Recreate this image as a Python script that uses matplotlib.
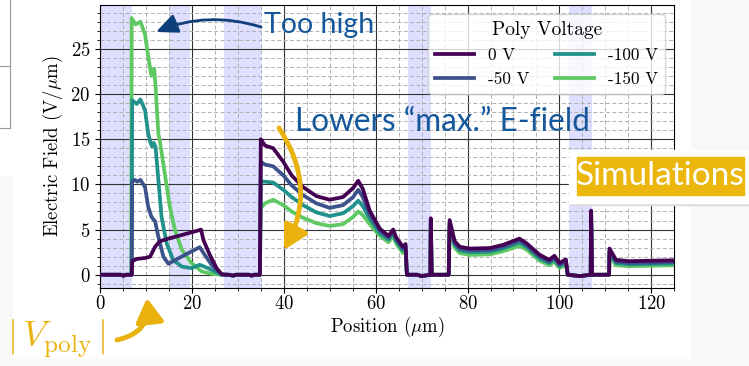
import numpy as np
import matplotlib
matplotlib.use('Agg')
import matplotlib.pyplot as plt
from matplotlib.patches import Rectangle, FancyArrowPatch
from matplotlib.lines import Line2D
from matplotlib.ticker import MultipleLocator

plt.rcParams['font.family'] = 'serif'
plt.rcParams['font.serif'] = ['cmr10']
plt.rcParams['mathtext.fontset'] = 'cm'
plt.rcParams['axes.formatter.use_mathtext'] = True

# left part of each curve (differs per voltage)
x_0V_left = [0, 4.5, 5.1, 5.7, 6.9, 7.0, 8.0, 9.8, 10.9, 12.0, 13.0, 14.9, 17.8, 21.4, 22.0, 22.5, 23.9, 25.4, 26.5]
y_0V_left = [0, 0, -0.1, 0, 0, 1.5, 1.75, 1.85, 2.0, 3.1, 3.7, 4.0, 4.4, 4.9, 5.0, 3.85, 2.2, 0.7, 0.05]
x_50V_left = [0, 4.5, 5.1, 5.7, 6.9, 7.0, 7.6, 8.1, 8.8, 9.8, 10.5, 11.2, 12.0, 12.7, 13.8, 14.9, 15.9, 18.5, 21.7, 22.8, 24.3, 26.1, 26.8]
y_50V_left = [0, 0, -0.1, 0, 0, 10.3, 10.5, 10.3, 10.5, 9.7, 7.5, 6.4, 5.9, 4.2, 2.0, 1.2, 1.5, 2.2, 3.05, 2.2, 1.1, 0.2, 0]
x_100V_left = [0, 4.5, 5.1, 5.7, 6.9, 7.0, 8.0, 8.8, 9.8, 10.5, 11.0, 11.3, 11.7, 12.1, 12.7, 13.4, 14.5, 15.9, 17.8, 19.9, 21.7, 23.5, 25.7, 26.6]
y_100V_left = [0, 0, -0.1, 0, 0, 19.3, 18.9, 19.4, 18.2, 15.6, 14.6, 14.2, 14.6, 14.1, 10.5, 6.4, 3.5, 1.65, 0.9, 0.73, 1.1, 0.73, 0.2, 0]
x_150V_left = [0, 4.5, 5.1, 5.7, 6.8, 6.9, 7.75, 8.8, 9.8, 10.5, 11.2, 11.8, 12.1, 12.7, 13.0, 14.1, 15.2, 16.3, 17.8, 19.9, 22.1, 24.3, 26.5]
y_150V_left = [0, 0, -0.1, 0, 0, 28.4, 27.7, 28.0, 26.6, 24.1, 22.0, 22.8, 20.8, 15.6, 14.9, 11.2, 7.5, 5.0, 2.76, 1.3, 0.37, 0.1, 0]

# right part, shared positions
x_right = [28.0, 29.0, 29.6, 32.4, 33.0, 33.6, 34.8, 35.0, 35.9, 37.7, 39.9, 41.7, 44.2, 47.1,
           50.0, 52.9, 55.1, 56.2, 57.2, 58.7, 60.9, 62.8, 63.8, 64.4, 65.9, 66.5, 66.8, 69.0,
           70.0, 71.9, 72.0, 72.2, 75.9, 76.1, 77.2, 78.3, 80.4, 84.8, 87.7, 91.3, 92.8, 95.7,
           97.8, 98.9, 100.0, 101.4, 101.8, 104.5, 106.8, 106.9, 107.1, 110.8, 110.9, 112.3, 115.2, 125.0]
y_0V_right = [0, -0.1, 0, 0, -0.1, 0, 0, 15.0, 14.3, 14.0, 12.5, 11.0, 9.7, 8.7, 8.3, 8.6, 9.6, 10.4, 9.5,
              7.1, 5.1, 4.3, 5.0, 4.2, 3.1, 3.4, 0, 0, -0.15, 0, 6.25, 0, 0, 6.05, 3.7, 3.1, 2.9, 2.95,
              3.3, 4.0, 3.5, 2.2, 1.65, 2.1, 1.3, 1.7, 0, -0.15, 0, 7.1, 0, 0, 2.9, 1.65, 1.5, 1.6]
y_50V_right = [0, -0.1, 0, 0, -0.1, 0, 0, 12.5, 12.2, 12.0, 11.0, 9.9, 8.8, 7.9, 7.4, 7.7, 8.6, 9.4, 8.6,
               6.7, 4.9, 4.1, 4.8, 4.0, 2.9, 3.2, 0, 0, -0.15, 0, 6.0, 0, 0, 5.8, 3.5, 2.9, 2.7, 2.75,
               3.1, 3.8, 3.3, 2.0, 1.45, 1.9, 1.1, 1.5, 0, -0.15, 0, 6.8, 0, 0, 2.7, 1.45, 1.3, 1.4]
y_100V_right = [0, -0.1, 0, 0, -0.1, 0, 0, 10.3, 10.3, 10.2, 9.4, 8.6, 7.7, 6.9, 6.5, 6.8, 7.6, 8.2, 7.6,
                6.2, 4.6, 3.9, 4.6, 3.8, 2.7, 3.0, 0, 0, -0.15, 0, 5.8, 0, 0, 5.6, 3.3, 2.7, 2.5, 2.55,
                2.9, 3.55, 3.1, 1.8, 1.3, 1.7, 0.95, 1.35, 0, -0.15, 0, 6.6, 0, 0, 2.5, 1.3, 1.15, 1.25]
y_150V_right = [0, -0.1, 0, 0, -0.1, 0, 0, 7.4, 7.9, 8.3, 7.7, 7.0, 6.3, 5.7, 5.4, 5.6, 6.4, 7.0, 6.6,
                5.6, 4.3, 3.6, 4.3, 3.5, 2.4, 2.7, 0, 0, -0.15, 0, 5.6, 0, 0, 5.3, 3.0, 2.4, 2.2, 2.25,
                2.6, 3.2, 2.8, 1.55, 1.05, 1.45, 0.75, 1.1, 0, -0.15, 0, 6.4, 0, 0, 2.2, 1.05, 0.95, 1.05]

labels = ['0 V', '-50 V', '-100 V', '-150 V']
oxide_regions = [(0, 7), (15, 19.5), (27, 35), (67, 72), (102, 107)]

series = [(x_0V_left, y_0V_left, y_0V_right),
          (x_50V_left, y_50V_left, y_50V_right),
          (x_100V_left, y_100V_left, y_100V_right),
          (x_150V_left, y_150V_left, y_150V_right)]
colors = plt.cm.viridis(np.linspace(0, 0.75, 4))

W, H = 749, 366
def fx(px):
    return px / W
def fy(py):
    return 1 - py / H

fig = plt.figure(figsize=(W / 100, H / 100), dpi=100)
fig.patch.set_facecolor('#f8f8f6')
fig.add_artist(Rectangle((fx(13), fy(358)), fx(690) - fx(13), fy(0) - fy(358),
                         transform=fig.transFigure, color='white', zorder=-10))
fig.add_artist(Rectangle((0, fy(175)), fx(13), fy(0) - fy(175),
                         transform=fig.transFigure, color='white', zorder=-10))
for xs, ys in [([fx(10), fx(10)], [fy(0), fy(128)]), ([0, fx(10)], [fy(66), fy(66)]),
               ([0, fx(10)], [fy(128), fy(128)])]:
    fig.add_artist(Line2D(xs, ys, transform=fig.transFigure, color='#999999', lw=0.8))

ax = fig.add_axes([fx(100), fy(288.3), fx(674.3) - fx(100), fy(5) - fy(288.3)])
ax.set_axisbelow(True)
for a, b in oxide_regions:
    ax.axvspan(a, b, color='#0000ff', alpha=0.13, lw=0, zorder=0.3)

handles = []
for i in range(3, -1, -1):
    xl, yl, yr = series[i]
    ln, = ax.plot(list(xl) + x_right, list(yl) + yr, color=colors[i], lw=2.7,
                  label=labels[i], zorder=3 + (3 - i))
    handles.insert(0, ln)

ax.set_xlim(0, 125)
ax.set_ylim(-1.5, 29.85)
ax.xaxis.set_major_locator(MultipleLocator(20))
ax.xaxis.set_minor_locator(MultipleLocator(5))
ax.yaxis.set_major_locator(MultipleLocator(5))
ax.yaxis.set_minor_locator(MultipleLocator(1))
ax.grid(which='major', color='#333333', lw=0.8)
ax.grid(which='minor', color='#b0b0b0', lw=0.7, ls=(0, (4, 2.5)))
ax.tick_params(which='both', labelsize=13.5)
ax.tick_params(axis='x', which='both', pad=1.5)
ax.set_xlabel(r'Position ($\mu$m)', fontsize=13.5, labelpad=1)
ax.set_ylabel(r'Electric Field (V/$\mu$m)', fontsize=13.5, labelpad=4)

leg = ax.legend(handles=handles, ncol=2, title='Poly Voltage', loc='upper right',
                fontsize=12.3, title_fontsize=14, handlelength=2.3, handletextpad=0.8,
                framealpha=0.8, columnspacing=1.5, borderaxespad=0.55, labelspacing=0.5)

# slide annotations
blue = '#14589b'
gold = '#e9b20e'
fig.text(fx(264), fy(33), 'Too high', family='Lato', fontsize=20.5, color=blue, va='baseline')
fig.text(fx(295), fy(131), 'Lowers \u201cmax.\u201d E-field', family='Lato', fontsize=22.7,
         color=blue, va='baseline')
fig.add_artist(FancyArrowPatch((fx(261), fy(27)), (fx(156), fy(32)), transform=fig.transFigure,
                               connectionstyle='arc3,rad=0.18', arrowstyle='-|>,head_length=1.0,head_width=0.45',
                               mutation_scale=13, color='#0f3f78', lw=2, shrinkA=0, shrinkB=0))
fig.add_artist(FancyArrowPatch((fx(279), fy(128)), (fx(284), fy(250)), transform=fig.transFigure,
                               connectionstyle='arc3,rad=-0.3', arrowstyle='-|>,head_length=1.1,head_width=0.6',
                               mutation_scale=13, color=gold, lw=3.5, zorder=20, shrinkA=0, shrinkB=0))
fig.add_artist(FancyArrowPatch((fx(117), fy(340)), (fx(147), fy(298)), transform=fig.transFigure,
                               connectionstyle='arc3,rad=0.45', arrowstyle='-|>,head_length=1.1,head_width=0.65',
                               mutation_scale=13, color=gold, lw=3.5, shrinkA=0, shrinkB=0))
fig.text(fx(7), fy(347), r'$|\,V_{\mathrm{poly}}\,|$', fontsize=26, color=gold, va='baseline')

fig.add_artist(Rectangle((fx(571), fy(205)), 1, fy(152) - fy(205), transform=fig.transFigure,
                         color='#dcdcdc', zorder=18))
fig.add_artist(Rectangle((fx(569), fy(203)), 1, fy(150) - fy(203), transform=fig.transFigure,
                         color='white', zorder=19))
fig.add_artist(Rectangle((fx(577), fy(195)), fx(744) - fx(577), fy(157) - fy(195),
                         transform=fig.transFigure, color='#ebb70d', zorder=20))
fig.text(fx(660.5), fy(176.5), 'Simulations', family='Lato', fontsize=24, color='white',
         ha='center', va='center', zorder=21)

fig.savefig('out.png', dpi=100, facecolor=fig.get_facecolor())
